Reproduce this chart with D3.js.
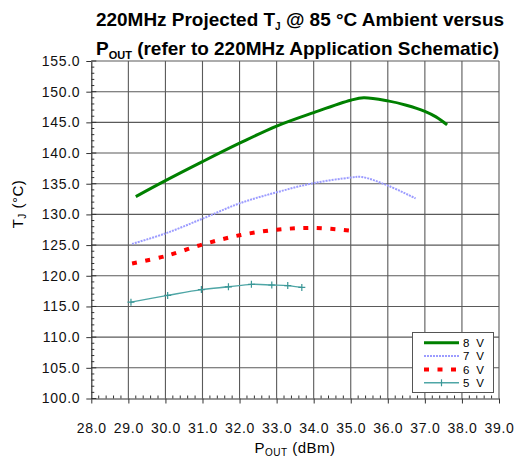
<!DOCTYPE html>
<html>
<head>
<meta charset="utf-8">
<script src="https://cdn.jsdelivr.net/npm/d3@7"></script>
<style>
  html, body { margin: 0; padding: 0; background: #fff; }
  svg { display: block; font-family: "Liberation Sans", Arial, sans-serif; }
</style>
</head>
<body>
<div id="chart"></div>
<script>
// data
const seriesNames = ["8 V", "7 V", "6 V", "5 V"]

const pout8 = [29.2, 30.0, 31.0, 32.0, 33.0, 34.0, 35.0, 35.35, 36.0, 36.5, 37.0, 37.3, 37.6]
const tj8   = [132.9, 135.5, 138.6, 141.6, 144.4, 146.6, 148.6, 149.0, 148.5, 147.8, 146.8, 145.9, 144.6]

const pout7 = [29.1, 30.0, 31.0, 32.0, 33.0, 34.0, 35.0, 35.3, 36.0, 36.75]
const tj7   = [125.2, 126.9, 129.3, 131.8, 133.6, 135.1, 136.0, 136.1, 134.7, 132.6]

const pout6 = [29.1, 30.0, 31.0, 32.0, 33.0, 34.0, 35.1]
const tj6   = [122.0, 123.2, 125.1, 126.6, 127.5, 127.8, 127.3]

const pout5 = [29.07, 30.06, 30.97, 31.7, 32.32, 32.87, 33.3, 33.68]
const tj5   = [115.7, 116.8, 117.75, 118.2, 118.6, 118.5, 118.4, 118.1]

const xTickValues = [28, 29, 30, 31, 32, 33, 34, 35, 36, 37, 38, 39]
const yTickValues = [100, 105, 110, 115, 120, 125, 130, 135, 140, 145, 150, 155]

const W = 515, H = 459
const plot = { left: 91.3, right: 499, top: 61, bottom: 398.5 }
const gridColor = "#5a5a5a"

const svg = d3.select("#chart").append("svg")
  .attr("width", W)
  .attr("height", H)

const x = d3.scaleLinear().domain([28, 39]).range([plot.left, plot.right])
const y = d3.scaleLinear().domain([100, 155]).range([plot.bottom, plot.top])

// title
const title = svg.append("g")
  .attr("font-weight", "bold")
  .attr("font-size", 19)
  .attr("fill", "#000")

const t1 = title.append("text").attr("x", 96).attr("y", 26)
  .attr("textLength", 408).attr("lengthAdjust", "spacingAndGlyphs")
t1.append("tspan").text("220MHz Projected T")
t1.append("tspan").attr("font-size", 10).attr("dy", 4).text("J")
t1.append("tspan").attr("dy", -4).text(" @ 85 °C Ambient versus")

const t2 = title.append("text").attr("x", 96).attr("y", 55)
  .attr("textLength", 403).attr("lengthAdjust", "spacingAndGlyphs")
t2.append("tspan").text("P")
t2.append("tspan").attr("font-size", 11).attr("dy", 4).text("OUT")
t2.append("tspan").attr("dy", -4).text(" (refer to 220MHz Application Schematic)")

// gridlines
const grid = svg.append("g")
  .attr("stroke", gridColor)
  .attr("stroke-width", 1.1)

grid.selectAll("line.v")
  .data(xTickValues.slice(1))
  .enter().append("line")
  .attr("class", "v")
  .attr("x1", d => x(d)).attr("x2", d => x(d))
  .attr("y1", plot.top).attr("y2", plot.bottom)

grid.selectAll("line.h")
  .data(yTickValues.slice(1))
  .enter().append("line")
  .attr("class", "h")
  .attr("x1", plot.left).attr("x2", plot.right)
  .attr("y1", d => y(d)).attr("y2", d => y(d))

// axes
const xAxis = svg.append("g")
  .attr("transform", "translate(0," + plot.bottom + ")")
  .call(d3.axisBottom(x).tickValues(xTickValues).tickFormat(d3.format(".1f"))
    .tickSizeInner(5).tickSizeOuter(0).tickPadding(16))
const yAxis = svg.append("g")
  .attr("transform", "translate(" + plot.left + ",0)")
  .call(d3.axisLeft(y).tickValues(yTickValues).tickFormat(d3.format(".1f"))
    .tickSizeInner(5).tickSizeOuter(0).tickPadding(6))

;[xAxis, yAxis].forEach(a => {
  a.select(".domain").attr("stroke", "#333").attr("stroke-width", 1.2)
  a.selectAll(".tick line").attr("stroke", "#333")
  a.selectAll(".tick text")
    .attr("font-family", "'Liberation Sans', Arial, sans-serif")
    .attr("font-size", 14)
    .attr("letter-spacing", 0.7)
    .attr("fill", "#111")
})
xAxis.selectAll(".tick text").attr("dy", "0")
  .attr("transform", "translate(0,13)")

// minor ticks, drawn inside the plot
const minorX = d3.range(28, 39.001, 0.2).filter(v => Math.abs(v - Math.round(v)) > 0.01)
const minorY = d3.range(100, 155.001, 1).filter(v => v % 5 !== 0)
svg.append("g").attr("stroke", "#333")
  .selectAll("line")
  .data(minorX)
  .enter().append("line")
  .attr("x1", d => x(d)).attr("x2", d => x(d))
  .attr("y1", plot.bottom).attr("y2", plot.bottom - 3)
svg.append("g").attr("stroke", "#333")
  .selectAll("line")
  .data(minorY)
  .enter().append("line")
  .attr("x1", plot.left).attr("x2", plot.left + 3)
  .attr("y1", d => y(d)).attr("y2", d => y(d))
// inside half of major ticks on y axis
svg.append("g").attr("stroke", "#333")
  .selectAll("line")
  .data(yTickValues)
  .enter().append("line")
  .attr("x1", plot.left).attr("x2", plot.left + 5)
  .attr("y1", d => y(d)).attr("y2", d => y(d))

// axis titles
const xt = svg.append("text")
  .attr("x", 295).attr("y", 453)
  .attr("text-anchor", "middle")
  .attr("font-size", 15)
  .attr("letter-spacing", 0.5)
xt.append("tspan").text("P")
xt.append("tspan").attr("font-size", 10).attr("dy", 3).text("OUT")
xt.append("tspan").attr("dy", -3).text(" (dBm)")

const yt = svg.append("text")
  .attr("transform", "translate(23,204) rotate(-90)")
  .attr("text-anchor", "middle")
  .attr("font-size", 15)
  .attr("letter-spacing", 0.5)
yt.append("tspan").text("T")
yt.append("tspan").attr("font-size", 10).attr("dy", 3).text("J")
yt.append("tspan").attr("dy", -3).text(" (°C)")

// series
const series = [
  { name: seriesNames[0], xs: pout8, ys: tj8, color: "#008000", width: 3, dash: null },
  { name: seriesNames[1], xs: pout7, ys: tj7, color: "#9c9cff", width: 2, dash: "2,1" },
  { name: seriesNames[2], xs: pout6, ys: tj6, color: "#ff0000", width: 4, dash: "5,8.5" },
  { name: seriesNames[3], xs: pout5, ys: tj5, color: "#4ea6a6", width: 1.4, dash: null, marker: true }
]

const line = d3.line()
  .x(d => x(d[0]))
  .y(d => y(d[1]))
  .curve(d3.curveCatmullRom.alpha(0.5))

const lines = svg.append("g").attr("class", "lines")
series.slice().reverse().forEach(s => {
  const pts = s.xs.map((v, i) => [v, s.ys[i]])
  lines.append("path")
    .datum(pts)
    .attr("fill", "none")
    .attr("stroke", s.color)
    .attr("stroke-width", s.width)
    .attr("stroke-dasharray", s.dash)
    .attr("d", line)
  if (s.marker) {
    lines.append("g").selectAll("path")
      .data(pts)
      .enter().append("path")
      .attr("stroke", "#3a9696")
      .attr("stroke-width", 1.2)
      .attr("d", d => {
        const cx = x(d[0]), cy = y(d[1])
        return "M" + (cx - 3.5) + "," + cy + "H" + (cx + 3.5) + "M" + cx + "," + (cy - 3.5) + "V" + (cy + 3.5)
      })
  }
})

// legend
const legend = svg.append("g").attr("class", "legend")
legend.append("rect")
  .attr("x", 412.5).attr("y", 332.5)
  .attr("width", 81).attr("height", 60)
  .attr("fill", "#fff")
  .attr("stroke", "#555")
  .attr("stroke-width", 1)

const rowY = d3.scaleLinear().domain([0, 3]).range([342.7, 382.8])
series.forEach((s, i) => {
  const ly = rowY(i)
  legend.append("line")
    .attr("x1", 424).attr("x2", 459)
    .attr("y1", ly).attr("y2", ly)
    .attr("stroke", s.color)
    .attr("stroke-width", s.width)
    .attr("stroke-dasharray", s.dash)
  if (s.marker) {
    legend.append("line")
      .attr("x1", 441.5).attr("x2", 441.5)
      .attr("y1", ly - 3.5).attr("y2", ly + 3.5)
      .attr("stroke", "#3a9696").attr("stroke-width", 1.2)
  }
  legend.append("text")
    .attr("x", 463).attr("y", ly + 4.2)
    .attr("font-size", 11.5)
    .attr("letter-spacing", 1.8)
    .text(s.name)
})
</script>
</body>
</html>
